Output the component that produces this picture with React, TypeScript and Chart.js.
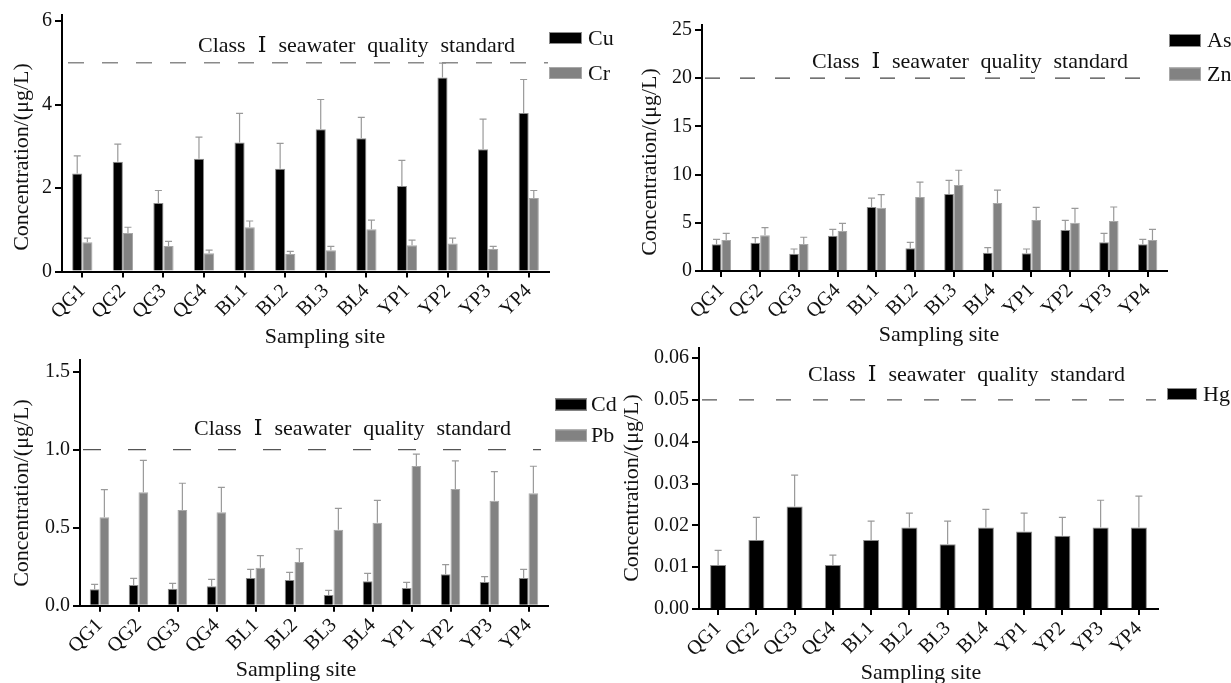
import React, { useEffect, useRef } from 'react';
import { Chart, registerables } from 'chart.js';

Chart.register(...registerables);

const sites = ['QG1', 'QG2', 'QG3', 'QG4', 'BL1', 'BL2', 'BL3', 'BL4', 'YP1', 'YP2', 'YP3', 'YP4'];

const cuMean = [2.35, 2.63, 1.64, 2.7, 3.09, 2.46, 3.41, 3.19, 2.05, 4.65, 2.93, 3.8];
const cuErr = [0.42, 0.42, 0.3, 0.52, 0.7, 0.61, 0.71, 0.5, 0.61, 0.34, 0.72, 0.8];
const crMean = [0.7, 0.92, 0.61, 0.44, 1.06, 0.42, 0.51, 1.01, 0.63, 0.67, 0.54, 1.76];
const crErr = [0.1, 0.14, 0.11, 0.07, 0.15, 0.06, 0.09, 0.22, 0.12, 0.13, 0.06, 0.18];

const asMean = [2.77, 2.94, 1.8, 3.66, 6.64, 2.35, 7.99, 1.9, 1.84, 4.25, 2.98, 2.77];
const asErr = [0.52, 0.52, 0.48, 0.66, 0.93, 0.63, 1.42, 0.52, 0.44, 1.01, 0.93, 0.52];
const znMean = [3.22, 3.7, 2.8, 4.15, 6.57, 7.68, 8.92, 7.05, 5.29, 5.01, 5.19, 3.22];
const znErr = [0.69, 0.79, 0.7, 0.8, 1.35, 1.55, 1.53, 1.35, 1.32, 1.49, 1.45, 1.1];

const cdMean = [0.105, 0.133, 0.109, 0.124, 0.177, 0.165, 0.069, 0.156, 0.113, 0.201, 0.152, 0.177];
const cdErr = [0.032, 0.042, 0.034, 0.045, 0.056, 0.049, 0.029, 0.051, 0.037, 0.062, 0.034, 0.056];
const pbMean = [0.567, 0.727, 0.613, 0.599, 0.244, 0.28, 0.487, 0.532, 0.896, 0.748, 0.673, 0.721];
const pbErr = [0.177, 0.205, 0.172, 0.16, 0.077, 0.085, 0.137, 0.143, 0.075, 0.18, 0.186, 0.173];

const hgMean = [0.0105, 0.0165, 0.0245, 0.0105, 0.0165, 0.0195, 0.0155, 0.0195, 0.0185, 0.0175, 0.0195, 0.0195];
const hgErr = [0.0035, 0.0054, 0.0075, 0.0024, 0.0045, 0.0034, 0.0055, 0.0043, 0.0044, 0.0044, 0.0065, 0.0075];

const standards = [5, 20, 1.0, 0.05];
const tickTops = [6, 25, 1.5, 0.06];
const stdWords = ['Class', 'Ⅰ', 'seawater', 'quality', 'standard'];
const yTitleText = 'Concentration/(μg/L)';
const xTitleText = 'Sampling site';

const FONT = "'Liberation Serif', 'DejaVu Serif', 'Times New Roman', serif";
const W = 1231;
const H = 683;

type Series = { label: string; values: number[]; errors: number[]; fill: string; border: string };
type Panel = {
  series: Series[];
  std: number;
  max: number;
  tickTop: number;
  step: number;
  dec: number;
  area: { left: number; top: number; right: number; bottom: number };
  stdText: { x1: number; x2: number; y: number };
  legend: { x: number; w: number; h: number; ys: number[]; textX: number };
  yTitle: { x: number; y: number };
  xTitle: { x: number; y: number };
  catPct: number;
  dash: number[];
  dashColor: string;
  dashWidth: number;
  dashStart: number;
  dashEnd: number;
};

const BLACK = '#000000';
const BLACK_B = '#8c8c8c';
const GRAY = '#828282';
const GRAY_B = '#a8a8a8';

const panels: Panel[] = [
  {
    series: [
      { label: 'Cu', values: cuMean, errors: cuErr, fill: BLACK, border: BLACK_B },
      { label: 'Cr', values: crMean, errors: crErr, fill: GRAY, border: GRAY_B },
    ],
    std: standards[0], max: 6.14, tickTop: tickTops[0], step: 2, dec: 0,
    area: { left: 62, top: 15.2, right: 549, bottom: 271.5 },
    stdText: { x1: 198, x2: 515, y: 46 },
    legend: { x: 549, w: 33, h: 12, ys: [38, 73], textX: 588 },
    yTitle: { x: 22, y: 157 },
    xTitle: { x: 325, y: 337 },
    catPct: 0.5,
    dash: [16, 18], dashColor: '#8a8a8a', dashWidth: 1.6, dashStart: 68, dashEnd: 548,
  },
  {
    series: [
      { label: 'As', values: asMean, errors: asErr, fill: BLACK, border: BLACK_B },
      { label: 'Zn', values: znMean, errors: znErr, fill: GRAY, border: GRAY_B },
    ],
    std: standards[1], max: 25.5, tickTop: tickTops[1], step: 5, dec: 0,
    area: { left: 702, top: 25.2, right: 1167, bottom: 271 },
    stdText: { x1: 812, x2: 1128, y: 62 },
    legend: { x: 1169, w: 32, h: 13, ys: [40.5, 74], textX: 1207 },
    yTitle: { x: 650, y: 162 },
    xTitle: { x: 939, y: 335 },
    catPct: 0.5,
    dash: [15, 20], dashColor: '#444444', dashWidth: 1.2, dashStart: 705, dashEnd: 1150,
  },
  {
    series: [
      { label: 'Cd', values: cdMean, errors: cdErr, fill: BLACK, border: BLACK_B },
      { label: 'Pb', values: pbMean, errors: pbErr, fill: GRAY, border: GRAY_B },
    ],
    std: standards[2], max: 1.575, tickTop: tickTops[2], step: 0.5, dec: 1,
    area: { left: 80, top: 360, right: 548, bottom: 605.7 },
    stdText: { x1: 194, x2: 511, y: 429 },
    legend: { x: 555, w: 32, h: 12, ys: [404.5, 435.5], textX: 591 },
    yTitle: { x: 22, y: 493 },
    xTitle: { x: 296, y: 670 },
    catPct: 0.5,
    dash: [18, 27], dashColor: '#555555', dashWidth: 1.2, dashStart: 83, dashEnd: 541,
  },
  {
    series: [{ label: 'Hg', values: hgMean, errors: hgErr, fill: BLACK, border: BLACK_B }],
    std: standards[3], max: 0.0624, tickTop: tickTops[3], step: 0.01, dec: 2,
    area: { left: 699, top: 348, right: 1158, bottom: 609 },
    stdText: { x1: 808, x2: 1125, y: 375 },
    legend: { x: 1167, w: 30, h: 12, ys: [394], textX: 1203 },
    yTitle: { x: 632, y: 488 },
    xTitle: { x: 921, y: 673 },
    catPct: 0.42,
    dash: [15, 22], dashColor: '#555555', dashWidth: 1.2, dashStart: 702, dashEnd: 1156,
  },
];

const Y_W = 60;
const X_H = 60;

function decorPlugin(p: Panel) {
  return {
    id: 'decor',
    afterDatasetsDraw(chart: any) {
      const ctx: CanvasRenderingContext2D = chart.ctx;
      const ys = chart.scales.y;
      // error bars
      p.series.forEach((s, i) => {
        const meta = chart.getDatasetMeta(i);
        meta.data.forEach((el: any, j: number) => {
          const top = ys.getPixelForValue(s.values[j] + s.errors[j]);
          ctx.save();
          ctx.strokeStyle = '#9a9a9a';
          ctx.lineWidth = 1.2;
          ctx.beginPath();
          ctx.moveTo(el.x, el.y);
          ctx.lineTo(el.x, top);
          ctx.moveTo(el.x - 3.5, top);
          ctx.lineTo(el.x + 3.5, top);
          ctx.stroke();
          ctx.restore();
        });
      });
      // standard line
      const yStd = ys.getPixelForValue(p.std);
      ctx.save();
      ctx.setLineDash(p.dash);
      ctx.strokeStyle = p.dashColor;
      ctx.lineWidth = p.dashWidth;
      ctx.beginPath();
      ctx.moveTo(p.dashStart, yStd);
      ctx.lineTo(p.dashEnd, yStd);
      ctx.stroke();
      ctx.restore();

      ctx.save();
      ctx.fillStyle = '#111';
      ctx.textBaseline = 'middle';
      ctx.textAlign = 'left';
      // standard text, spread across its width
      ctx.font = `22px ${FONT}`;
      const widths = stdWords.map((w) => ctx.measureText(w).width);
      const total = widths.reduce((a, b) => a + b, 0);
      const gap = (p.stdText.x2 - p.stdText.x1 - total) / (stdWords.length - 1);
      let x = p.stdText.x1;
      stdWords.forEach((w, i) => {
        ctx.fillText(w, x, p.stdText.y);
        x += widths[i] + gap;
      });
      // legend
      p.series.forEach((s, i) => {
        const cy = p.legend.ys[i];
        ctx.fillStyle = s.fill;
        ctx.fillRect(p.legend.x, cy - p.legend.h / 2, p.legend.w, p.legend.h);
        ctx.strokeStyle = s.border;
        ctx.lineWidth = 1;
        ctx.strokeRect(p.legend.x + 0.5, cy - p.legend.h / 2 + 0.5, p.legend.w - 1, p.legend.h - 1);
        ctx.fillStyle = '#111';
        ctx.fillText(s.label, p.legend.textX, cy + 1);
      });
      // axis titles
      ctx.textAlign = 'center';
      ctx.fillText(xTitleText, p.xTitle.x, p.xTitle.y);
      ctx.translate(p.yTitle.x, p.yTitle.y);
      ctx.rotate(-Math.PI / 2);
      ctx.fillText(yTitleText, 0, 0);
      ctx.restore();
    },
  };
}

function PanelChart({ p }: { p: Panel }) {
  const ref = useRef<HTMLCanvasElement | null>(null);
  useEffect(() => {
    if (!ref.current) return;
    const chart = new Chart(ref.current, {
      type: 'bar',
      data: {
        labels: sites,
        datasets: p.series.map((s) => ({
          label: s.label,
          data: s.values,
          backgroundColor: s.fill,
          borderColor: s.border,
          borderWidth: 1,
          categoryPercentage: p.catPct,
          barPercentage: 1,
        })),
      },
      options: {
        responsive: false,
        animation: false,
        events: [],
        layout: {
          padding: {
            left: p.area.left - Y_W,
            top: p.area.top,
            right: W - p.area.right,
            bottom: H - p.area.bottom - X_H,
          },
        },
        plugins: { legend: { display: false }, tooltip: { enabled: false }, title: { display: false } },
        scales: {
          x: {
            type: 'category',
            offset: true,
            grid: { display: true, drawOnChartArea: false, drawTicks: true, tickLength: 6, color: '#000', lineWidth: 2, offset: false },
            border: { display: true, color: '#000', width: 2 },
            ticks: {
              color: '#111',
              font: { family: FONT, size: 20 },
              maxRotation: 45,
              minRotation: 45,
              autoSkip: false,
              padding: 2,
            },
            afterFit: (s: any) => {
              s.height = X_H;
            },
          },
          y: {
            type: 'linear',
            min: 0,
            max: p.max,
            grid: { display: true, drawOnChartArea: false, drawTicks: true, tickLength: 7, color: '#000', lineWidth: 2 },
            border: { display: true, color: '#000', width: 2 },
            ticks: {
              stepSize: p.step,
              color: '#111',
              font: { family: FONT, size: 20 },
              padding: 3,
              callback: (v: any) => Number(v).toFixed(p.dec),
            },
            afterBuildTicks: (s: any) => {
              const n = Math.round(p.tickTop / p.step);
              const t: { value: number }[] = [];
              for (let k = 0; k <= n; k++) t.push({ value: Number((k * p.step).toFixed(6)) });
              s.ticks = t;
            },
            afterFit: (s: any) => {
              s.width = Y_W;
            },
          },
        },
      },
      plugins: [decorPlugin(p)],
    } as any);
    return () => chart.destroy();
  }, [p]);
  return (
    <canvas
      ref={ref}
      width={W}
      height={H}
      style={{ position: 'absolute', left: 0, top: 0, width: W, height: H }}
    />
  );
}

export default function App() {
  return (
    <div style={{ position: 'fixed', left: 0, top: 0, width: W, height: H, background: '#fff', overflow: 'hidden' }}>
      {panels.map((p, i) => (
        <PanelChart key={i} p={p} />
      ))}
    </div>
  );
}
